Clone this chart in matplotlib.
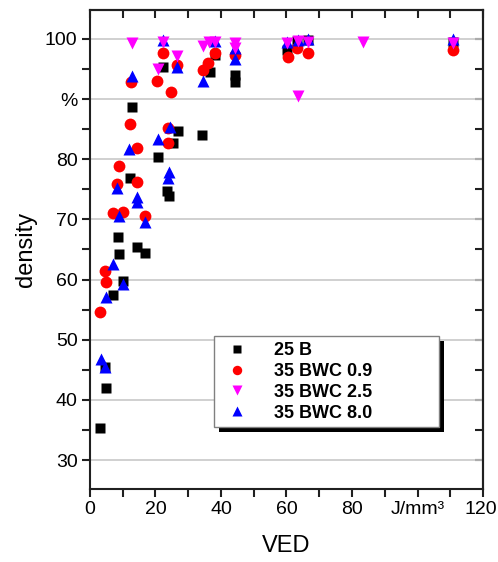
import matplotlib
matplotlib.use('Agg')
import matplotlib.pyplot as plt
from matplotlib.ticker import MultipleLocator, FixedLocator, FixedFormatter
from matplotlib.patches import Rectangle
from matplotlib.transforms import ScaledTranslation

plt.rcParams['font.family'] = ['Liberation Sans', 'DejaVu Sans']

# 25 B
ved_25b = [3.1, 4.6, 4.9, 7.0, 10.1, 8.9, 8.5, 14.4, 16.8, 12.2, 20.8, 23.5, 24.1,
           25.4, 12.8, 22.3, 27.0, 34.3, 36.6, 44.3, 44.3, 38.2, 60.2, 63.2, 66.6, 110.8]
dens_25b = [35.3, 45.5, 42.0, 57.4, 59.8, 64.2, 67.1, 65.4, 64.4, 76.9, 80.3, 74.7, 73.9,
            82.7, 88.7, 95.3, 84.7, 84.1, 94.5, 94.0, 92.8, 97.3, 98.2, 99.6, 99.8, 99.5]

# 35 BWC 0.9
ved_09 = [3.1, 4.6, 4.9, 7.0, 10.1, 8.2, 8.9, 14.4, 16.8, 14.3, 12.2, 12.5, 22.3, 20.5,
          24.7, 23.8, 23.8, 26.6, 34.5, 36.0, 38.2, 44.3, 60.5, 63.2, 66.6, 110.8]
dens_09 = [54.6, 61.4, 59.6, 71.0, 71.2, 75.9, 78.9, 76.2, 70.6, 81.9, 85.9, 92.8, 97.6, 93.0,
           91.2, 85.2, 82.7, 95.6, 94.8, 96.0, 97.6, 97.3, 97.0, 98.5, 97.7, 98.2]

# 35 BWC 2.5
ved_25 = [12.8, 22.3, 20.8, 26.6, 34.5, 36.3, 38.2, 44.3, 44.3, 60.2, 63.5, 63.5, 66.6,
          83.4, 110.8]
dens_25 = [99.3, 99.5, 95.0, 97.2, 98.8, 99.5, 99.5, 99.3, 98.5, 99.3, 90.5, 99.6, 99.5,
           99.5, 99.3]

# 35 BWC 8.0
ved_80 = [3.4, 4.6, 4.9, 7.0, 10.1, 8.2, 11.9, 8.9, 14.4, 14.4, 16.8, 20.8, 24.1, 23.8,
          24.4, 12.8, 22.3, 26.6, 34.5, 38.2, 44.3, 44.3, 60.2, 63.5, 66.6, 110.8]
dens_80 = [46.8, 45.5, 57.1, 62.6, 59.3, 75.2, 81.7, 70.6, 73.7, 72.9, 69.6, 83.4, 77.9, 76.9,
           85.3, 93.8, 99.8, 95.3, 93.0, 99.6, 96.7, 98.5, 99.5, 99.8, 100.0, 100.0]

x_ticks = [0, 20, 40, 60, 80, 100, 120]
x_labels = ['0', '20', '40', '60', '80', 'J/mm³', '120']
y_ticks = [30, 40, 50, 60, 70, 80, 90, 100]
y_labels = ['30', '40', '50', '60', '70', '80', '%', '100']

fig = plt.figure(figsize=(4.98, 5.62), dpi=100)
ax = fig.add_axes([0.1807, 0.1299, 0.7892, 0.8523])
fs = 14

ax.plot(ved_25b, dens_25b, 's', color='black', ms=7.5, mec='none', label='25 B', zorder=3)
ax.plot(ved_09, dens_09, 'o', color='#ff0000', ms=8.5, mec='none', label='35 BWC 0.9', zorder=3)
ax.plot(ved_80, dens_80, '^', color='#0000ff', ms=9, mec='none', label='35 BWC 8.0', zorder=4)
ax.plot(ved_25, dens_25, 'v', color='#ff00ff', ms=9, mec='none', label='35 BWC 2.5', zorder=5)

ax.set_xlim(0, 120)
ax.set_ylim(25.2, 104.8)
ax.xaxis.set_major_locator(FixedLocator(x_ticks))
ax.xaxis.set_major_formatter(FixedFormatter(x_labels))
ax.xaxis.set_minor_locator(MultipleLocator(10))
ax.yaxis.set_major_locator(FixedLocator(y_ticks))
ax.yaxis.set_major_formatter(FixedFormatter(y_labels))
ax.yaxis.set_minor_locator(MultipleLocator(5))

ax.grid(axis='y', which='major', color='#c8c8c8', lw=1.2, zorder=0)
ax.set_axisbelow(True)

for s in ax.spines.values():
    s.set_linewidth(1.5)
    s.set_color('#202020')

ax.tick_params(which='both', direction='out', length=6, width=1.5, labelsize=fs,
               color='#202020', pad=3)
# the last x label sits at the figure edge, keep it just inside
last = ax.get_xticklabels()[-1]
last.set_horizontalalignment('right')
last.set_transform(last.get_transform() + ScaledTranslation(0.14, 0, fig.dpi_scale_trans))

# secondary ticks on top/right pointing inward
axt = ax.secondary_xaxis('top')
axt.xaxis.set_major_locator(FixedLocator(x_ticks))
axt.xaxis.set_minor_locator(MultipleLocator(10))
axt.tick_params(which='both', direction='in', length=6, width=1.5, labeltop=False,
                color='#202020')
axr = ax.secondary_yaxis('right')
axr.yaxis.set_major_locator(FixedLocator(y_ticks))
axr.yaxis.set_minor_locator(MultipleLocator(5))
axr.tick_params(which='both', direction='in', length=6, width=1.5, labelright=False,
                color='#202020')
for s in list(axt.spines.values()) + list(axr.spines.values()):
    s.set_linewidth(1.5)
    s.set_color('#202020')

ax.set_xlabel('VED', fontsize=17, labelpad=12)
ax.set_ylabel('density', fontsize=17, labelpad=6)

h, l = ax.get_legend_handles_labels()
order = [0, 1, 3, 2]
leg = ax.legend([h[i] for i in order], [l[i] for i in order],
                loc='lower left', bbox_to_anchor=(0.3155, 0.129, 0.5725, 0.1946),
                mode='expand', frameon=True, fancybox=False, edgecolor='#808080',
                framealpha=1, prop={'weight': 'bold', 'size': 13},
                markerscale=0.8, handletextpad=1.0, labelspacing=0.22, borderpad=0.3,
                handlelength=2.0, borderaxespad=0)
leg.get_frame().set_linewidth(1.0)
leg.set_zorder(10)

# drop shadow behind the legend box
fig.canvas.draw()
bb = leg.get_window_extent().transformed(fig.transFigure.inverted())
off_x, off_y = 5 / 498, 5 / 562
shadow = Rectangle((bb.x0 + off_x, bb.y0 - off_y), bb.width, bb.height,
                   transform=fig.transFigure, facecolor='black', edgecolor='none',
                   zorder=9)
ax.add_artist(shadow)
shadow.set_clip_on(False)

fig.savefig('out.png', dpi=100)
